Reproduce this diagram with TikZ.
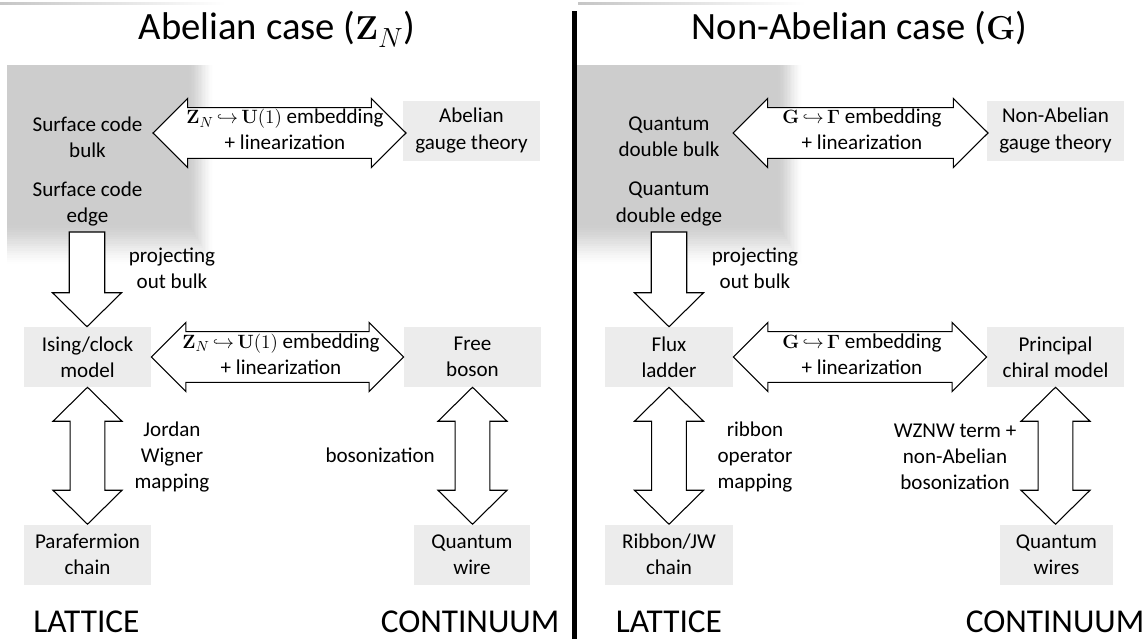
\documentclass[tikz,border=0pt]{standalone}
\usepackage[no-math]{fontspec}
\setmainfont{Carlito}
\usetikzlibrary{calc}
\definecolor{boxgray}{RGB}{236,236,236}
\definecolor{shdgray}{RGB}{205,205,205}
\newcommand\bxfont{\fontsize{15.8}{19.6}\selectfont}
\newcommand\ttlfont{\fontsize{29}{34}\selectfont}
\newcommand\ftrfont{\fontsize{25}{30}\selectfont}
% horizontal double arrow: left tip, right tip
\newcommand\hdarr[2]{%
  \path[arr] let \p1=#1, \p2=#2 in
  (\x1,\y1) -- (\x1+26pt,\y1+25.9pt) -- (\x1+26pt,\y1+19pt) -- (\x2-26pt,\y1+19pt)
  -- (\x2-26pt,\y1+25.9pt) -- (\x2,\y1) -- (\x2-26pt,\y1-25.9pt) -- (\x2-26pt,\y1-19pt)
  -- (\x1+26pt,\y1-19pt) -- (\x1+26pt,\y1-25.9pt) -- cycle;}
% vertical double arrow: top tip, bottom tip
\newcommand\vdarr[2]{%
  \path[arr] let \p1=#1, \p2=#2 in
  (\x1,\y1) -- (\x1+25.9pt,\y1-25.5pt) -- (\x1+13pt,\y1-25.5pt) -- (\x1+13pt,\y2+25.5pt)
  -- (\x1+25.9pt,\y2+25.5pt) -- (\x1,\y2) -- (\x1-25.9pt,\y2+25.5pt) -- (\x1-13pt,\y2+25.5pt)
  -- (\x1-13pt,\y1-25.5pt) -- (\x1-25.9pt,\y1-25.5pt) -- cycle;}
% single down arrow: shaft top, tip
\newcommand\dnarr[2]{%
  \path[arr] let \p1=#1, \p2=#2 in
  (\x1-13.3pt,\y1) -- (\x1+13.3pt,\y1) -- (\x1+13.3pt,\y2+25.5pt) -- (\x1+25.9pt,\y2+25.5pt)
  -- (\x1,\y2) -- (\x1-25.9pt,\y2+25.5pt) -- (\x1-13.3pt,\y2+25.5pt) -- cycle;}
% soft shaded region with blurred right and bottom edges
\newcommand\softregion[4]{%
  \foreach \k in {20,19,...,0}{%
    \pgfmathsetmacro\tt{\k/20}%
    \pgfmathsetmacro\pc{100*(1-(3*\tt*\tt-2*\tt*\tt*\tt))}%
    \fill[shdgray!\pc!white] (#1,#2) rectangle ({#3+1.4*\k},{#4+2.3*\k});
  }}
\newcommand\embZ{$\mathbf{Z}_N\,{\hookrightarrow}\,\mathbf{U}(1)$ embedding\\+ linearization}
\newcommand\embG{$\mathbf{G}\,{\hookrightarrow}\,\mathbf{\Gamma}$ embedding\\+ linearization}
\tikzset{
  arr/.style={draw=black, fill=white, line width=0.8pt, line join=miter},
  box/.style={fill=boxgray, align=center, font=\bxfont, inner sep=0pt, minimum height=45pt},
  lbl/.style={align=center, font=\bxfont, inner sep=0pt},
  ttl/.style={font=\ttlfont, inner sep=0pt, anchor=base},
  ftr/.style={font=\ftrfont, inner sep=0pt, anchor=base},
}
\begin{document}
\begin{tikzpicture}[x=0.75pt,y=-0.75pt]
\useasboundingbox (0,0) rectangle (1147,639);
\fill[white] (0,0) rectangle (1147,639);
% backgrounds
\softregion{7}{65}{188}{223}
\softregion{577}{65}{777}{223}
\shade[left color=gray!45, right color=white] (0,2) rectangle (225,4);
\shade[left color=gray!45, right color=white] (578,2) rectangle (805,4);
\fill[black] (572,11) rectangle (577,639);

% ================= LEFT PANEL =================
\node[ttl] (titleA) at (277,40) {Abelian case ($\mathbf{Z}_N$)};
\node[lbl] (bulkA) at (87.5,137) {Surface code\\bulk};
\node[lbl] (edgeA) at (87.5,204) {Surface code\\edge};
\node[box, minimum width=102.75pt] (gaugeA) at (471.5,130.5) {Abelian\\gauge theory};
\node[box, minimum width=95.25pt] (isingA) at (87.5,357) {Ising/clock\\model};
\node[box, minimum width=102.75pt] (freeA) at (472.5,357) {Free\\boson};
\node[box, minimum width=95.25pt] (paraA) at (87.5,554.5) {Parafermion\\chain};
\node[box, minimum width=87pt] (wireA) at (472,554.5) {Quantum\\wire};
\coordinate (tA1) at (153,133);
\coordinate (tA2) at (406,133);
\coordinate (dA) at (87,232);
\hdarr{(tA1)}{(tA2)}
\dnarr{(dA)}{(isingA.north)}
\hdarr{(isingA.east)}{(freeA.west)}
\vdarr{(isingA.south)}{(paraA.north)}
\vdarr{(freeA.south)}{(wireA.north)}
\node[lbl] (embA1) at (285,129.5) {\embZ};
\node[lbl] (embA2) at (281,354) {\embZ};
\node[lbl] (projA) at (172,268.5) {projecting\\out bulk};
\node[lbl] (jwA) at (172,457) {Jordan\\Wigner\\mapping};
\node[lbl, anchor=base east] (bosA) at (435,462) {bosonization};
\node[ftr] (latA) at (86.5,632) {LATTICE};
\node[ftr] (contA) at (470,632) {CONTINUUM};

% ================= RIGHT PANEL =================
\node[ttl] (titleB) at (859.5,40) {Non-Abelian case ($\mathbf{G}$)};
\node[lbl] (bulkB) at (669,137) {Quantum\\double bulk};
\node[lbl] (edgeB) at (669,204) {Quantum\\double edge};
\node[box, minimum width=102.75pt] (gaugeB) at (1055.5,130.5) {Non-Abelian\\gauge theory};
\node[box, minimum width=96pt] (fluxB) at (669,357) {Flux\\ladder};
\node[box, minimum width=102.75pt] (pcmB) at (1055.5,357) {Principal\\chiral model};
\node[box, minimum width=96pt] (ribB) at (669,554.5) {Ribbon/JW\\chain};
\node[box, minimum width=84.75pt] (wireB) at (1056.5,554.5) {Quantum\\wires};
\coordinate (tB1) at (733,133);
\coordinate (tB2) at (988,133);
\coordinate (dB) at (669,232);
\hdarr{(tB1)}{(tB2)}
\dnarr{(dB)}{(fluxB.north)}
\hdarr{(fluxB.east)}{(pcmB.west)}
\vdarr{(fluxB.south)}{(ribB.north)}
\vdarr{(pcmB.south)}{(wireB.north)}
\node[lbl] (embB1) at (862,129.5) {\embG};
\node[lbl] (embB2) at (862,354) {\embG};
\node[lbl] (projB) at (755,268.5) {projecting\\out bulk};
\node[lbl] (ribmB) at (755,457) {ribbon\\operator\\mapping};
\node[lbl] (wznwB) at (955,457) {WZNW term +\\non-Abelian\\bosonization};
\node[ftr] (latB) at (669,632) {LATTICE};
\node[ftr] (contB) at (1055,632) {CONTINUUM};
\end{tikzpicture}
\end{document}
